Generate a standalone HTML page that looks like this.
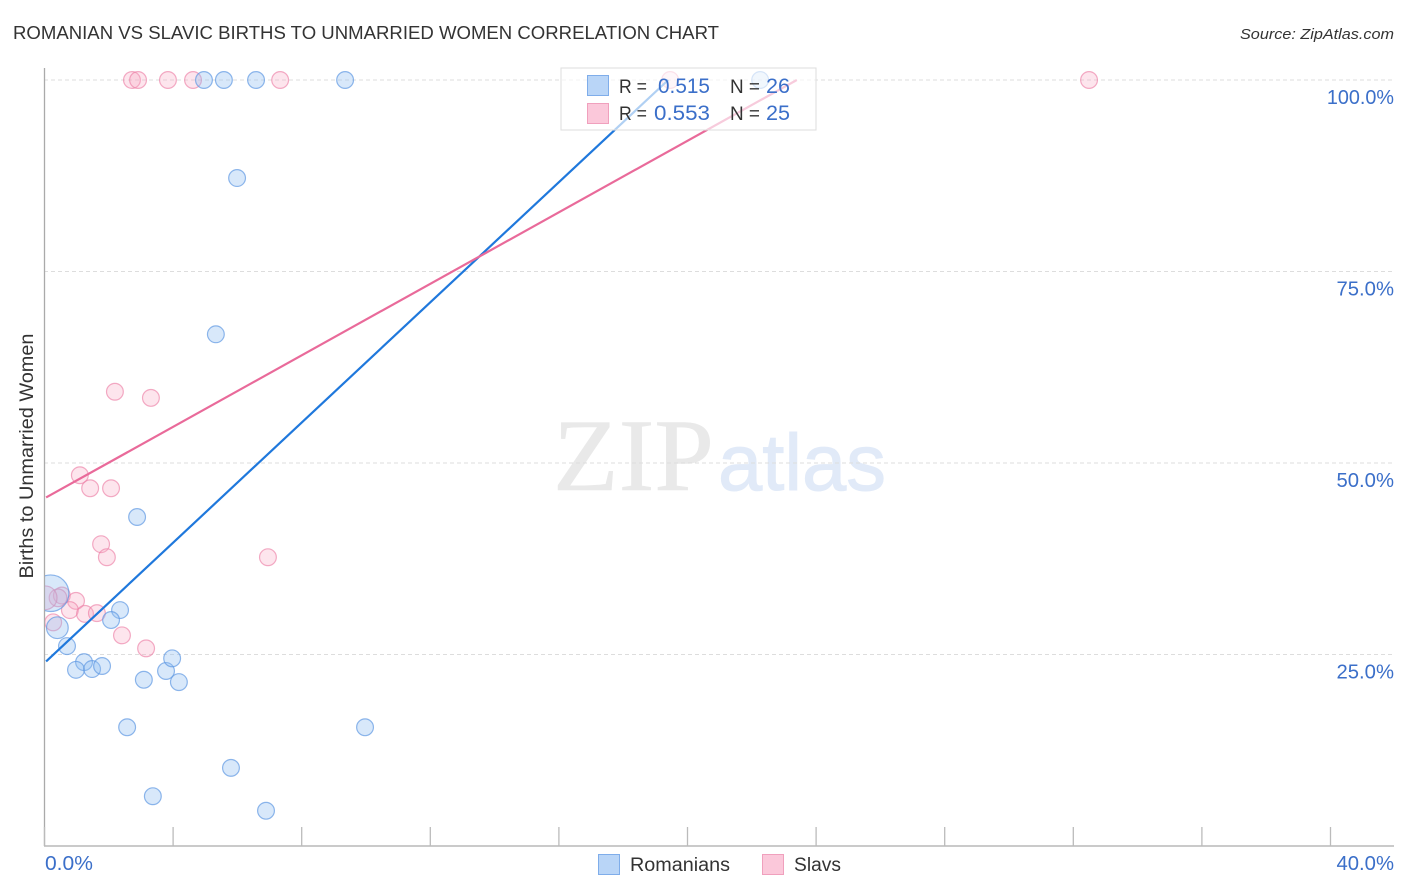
<!DOCTYPE html>
<html lang="en">
<head>
<meta charset="utf-8">
<title>Romanian vs Slavic Births to Unmarried Women Correlation Chart</title>
<style>
html,body{margin:0;padding:0;background:#fff;width:1406px;height:892px;overflow:hidden}
svg{display:block;font-family:"Liberation Sans",sans-serif}
</style>
</head>
<body>
<svg id="chart" xmlns="http://www.w3.org/2000/svg" width="1406" height="892" viewBox="0 0 1406 892">
  <defs><clipPath id="plot-clip"><rect x="45" y="60" width="1349" height="786"/></clipPath></defs>
  <rect width="1406" height="892" fill="#fff"/>
  <text x="13" y="39" font-size="18.5" fill="#333" textLength="706" lengthAdjust="spacingAndGlyphs">ROMANIAN VS SLAVIC BIRTHS TO UNMARRIED WOMEN CORRELATION CHART</text>
  <text x="1394" y="39" font-size="15" font-style="italic" fill="#333" text-anchor="end" textLength="154" lengthAdjust="spacingAndGlyphs">Source: ZipAtlas.com</text>
  <text x="553" y="490" font-family="'Liberation Serif',serif" font-size="103" fill="#e9e9e9" stroke="#e9e9e9" stroke-width="0.6" textLength="161" lengthAdjust="spacingAndGlyphs">ZIP</text>
  <text x="718" y="490" font-size="80" fill="#e1eaf8" stroke="#e1eaf8" stroke-width="1" textLength="168" lengthAdjust="spacingAndGlyphs">atlas</text>
  <g id="grid"></g>
  <g id="axes"></g>
  <g id="marks" clip-path="url(#plot-clip)"></g>
  <text transform="translate(33,456) rotate(-90)" font-size="19" fill="#333" text-anchor="middle" textLength="245" lengthAdjust="spacingAndGlyphs">Births to Unmarried Women</text>

  <g>
    <rect x="561" y="68" width="255" height="62" fill="#fff" fill-opacity="0.65" stroke="#ddd" stroke-width="1"/>
    <rect x="587.5" y="75.5" width="21" height="20" fill="#b9d5f7" stroke="#7fadea"/>
    <rect x="587.5" y="103.5" width="21" height="20" fill="#fbc8da" stroke="#f0a0bd"/>
    <text x="619" y="93" font-size="19" fill="#333" textLength="28" lengthAdjust="spacingAndGlyphs">R =</text>
    <text x="658" y="93" font-size="21" fill="#3b6fc9" textLength="52" lengthAdjust="spacingAndGlyphs">0.515</text>
    <text x="730" y="93" font-size="19" fill="#333" textLength="30" lengthAdjust="spacingAndGlyphs">N =</text>
    <text x="766" y="93" font-size="21" fill="#3b6fc9" textLength="24" lengthAdjust="spacingAndGlyphs">26</text>
    <text x="619" y="120" font-size="19" fill="#333" textLength="28" lengthAdjust="spacingAndGlyphs">R =</text>
    <text x="654" y="120" font-size="21" fill="#3b6fc9" textLength="56" lengthAdjust="spacingAndGlyphs">0.553</text>
    <text x="730" y="120" font-size="19" fill="#333" textLength="30" lengthAdjust="spacingAndGlyphs">N =</text>
    <text x="766" y="120" font-size="21" fill="#3b6fc9" textLength="24" lengthAdjust="spacingAndGlyphs">25</text>
  </g>

  <g>
    <rect x="598.5" y="854.5" width="21" height="20" fill="#b9d5f7" stroke="#7fadea"/>
    <text x="630" y="871" font-size="19" fill="#333" textLength="100" lengthAdjust="spacingAndGlyphs">Romanians</text>
    <rect x="762.5" y="854.5" width="21" height="20" fill="#fbc8da" stroke="#f0a0bd"/>
    <text x="794" y="871" font-size="19" fill="#333" textLength="47" lengthAdjust="spacingAndGlyphs">Slavs</text>
  </g>
</svg>
<script>
var xTickValues = [0, 4, 8, 12, 16, 20, 24, 28, 32, 36, 40];
var xTickLabels = ["0.0%", "40.0%"];
var yTickValues = [25, 50, 75, 100];
var yTickLabels = ["25.0%", "50.0%", "75.0%", "100.0%"];

var romaniansX = [4.96, 5.58, 6.58, 9.35, 22.26, 5.99, 5.33, 2.88, 2.35, 2.07, 0.40, 0.70, 1.23, 0.98, 1.48, 1.79, 3.09, 3.78, 3.97, 4.18, 2.57, 9.97, 5.80, 3.37, 6.89, 0.19];
var romaniansY = [100, 100, 100, 100, 100, 87.2, 66.8, 42.95, 30.8, 29.5, 28.5, 26.1, 24.0, 23.0, 23.1, 23.5, 21.7, 22.85, 24.5, 21.4, 15.5, 15.5, 10.2, 6.5, 4.6, 33.0];
var romaniansWeight = [1, 1, 1, 1, 1, 1, 1, 1, 1, 1, 1.67, 1, 1, 1, 1, 1, 1, 1, 1, 1, 1, 1, 1, 1, 1, 4.74];

var slavsX = [2.72, 2.91, 3.84, 4.62, 7.33, 32.49, 19.46, 2.19, 3.31, 1.10, 1.42, 2.07, 1.76, 1.94, 6.95, 0.54, 0.98, 0.42, 0.79, 1.26, 1.63, 2.41, 3.16, 0.27, 0.02];
var slavsY = [100, 100, 100, 100, 100, 100, 100, 59.3, 58.5, 48.4, 46.7, 46.7, 39.4, 37.7, 37.7, 32.7, 32.0, 32.4, 30.8, 30.3, 30.4, 27.5, 25.8, 29.2, 32.4];
var slavsWeight = [1, 1, 1, 1, 1, 1, 1, 1, 1, 1, 1, 1, 1, 1, 1, 1, 1, 1.1, 1, 1, 1, 1, 1, 1, 2];

var romaniansTrendX = [0.05, 19.4];
var romaniansTrendY = [24.1, 100];
var slavsTrendX = [0.05, 23.4];
var slavsTrendY = [45.5, 100];

var NS = 'http://www.w3.org/2000/svg';
function xScale(v) { return 44.5 + v * 32.15; }
function yScale(v) { return 846 - v * 7.66; }
function radius(w) { return 8.4 * Math.sqrt(w); }
function labelWidth(s) { return s.length * 9.6 + 9.5; }
function make(tag, attrs, parent) {
  var el = document.createElementNS(NS, tag);
  Object.keys(attrs).forEach(function (k) { el.setAttribute(k, attrs[k]); });
  parent.appendChild(el);
  return el;
}

var grid = document.getElementById('grid');
var axes = document.getElementById('axes');
var marks = document.getElementById('marks');

yTickValues.forEach(function (v, i) {
  var line = make('line', { x1: 44, x2: 1394, y1: yScale(v), y2: yScale(v), stroke: '#ddd', 'stroke-width': 1, 'stroke-dasharray': '4 3' }, grid);
  
  
  var label = make('text', { x: 1394, y: yScale(v) + 24, 'font-size': 20, fill: '#3b6fc9', 'text-anchor': 'end', textLength: labelWidth(yTickLabels[i]), lengthAdjust: 'spacingAndGlyphs' }, axes);
  
  
  label.textContent = yTickLabels[i];
});

var yAxis = make('line', { x1: 44.5, x2: 44.5, y1: 68, y2: 846, stroke: '#aaa', 'stroke-width': 1.3 }, axes);


var xAxis = make('line', { x1: 44, x2: 1394, y1: 846, y2: 846, stroke: '#aaa', 'stroke-width': 1.3 }, axes);



xTickValues.forEach(function (v) {
  var tick = make('line', { x1: xScale(v), x2: xScale(v), y1: 827, y2: 846, stroke: '#bbb', 'stroke-width': 1.3 }, axes);
  
  
});

var xLabelLeft = make('text', { x: 45, y: 870, 'font-size': 20, fill: '#3b6fc9', textLength: labelWidth(xTickLabels[0]), lengthAdjust: 'spacingAndGlyphs' }, axes);


xLabelLeft.textContent = xTickLabels[0];
var xLabelRight = make('text', { x: 1394, y: 870, 'font-size': 20, fill: '#3b6fc9', 'text-anchor': 'end', textLength: labelWidth(xTickLabels[1]), lengthAdjust: 'spacingAndGlyphs' }, axes);


xLabelRight.textContent = xTickLabels[1];

slavsX.forEach(function (v, i) {
  var c = make('circle', { cx: xScale(v), cy: yScale(slavsY[i]), r: radius(slavsWeight[i]), fill: '#f9a8c4', 'fill-opacity': 0.3, stroke: '#ec7fa6', 'stroke-opacity': 0.65, 'stroke-width': 1.2 }, marks);
  
  
});
romaniansX.forEach(function (v, i) {
  var c = make('circle', { cx: xScale(v), cy: yScale(romaniansY[i]), r: radius(romaniansWeight[i]), fill: '#90bcf0', 'fill-opacity': 0.35, stroke: '#5f98e2', 'stroke-opacity': 0.7, 'stroke-width': 1.2 }, marks);
  
  
});

var blueTrend = make('line', { x1: xScale(romaniansTrendX[0]), y1: yScale(romaniansTrendY[0]), x2: xScale(romaniansTrendX[1]), y2: yScale(romaniansTrendY[1]), stroke: '#1f78dc', 'stroke-width': 2.2 }, marks);


var pinkTrend = make('line', { x1: xScale(slavsTrendX[0]), y1: yScale(slavsTrendY[0]), x2: xScale(slavsTrendX[1]), y2: yScale(slavsTrendY[1]), stroke: '#e96a9a', 'stroke-width': 2.2 }, marks);


</script>
</body>
</html>
